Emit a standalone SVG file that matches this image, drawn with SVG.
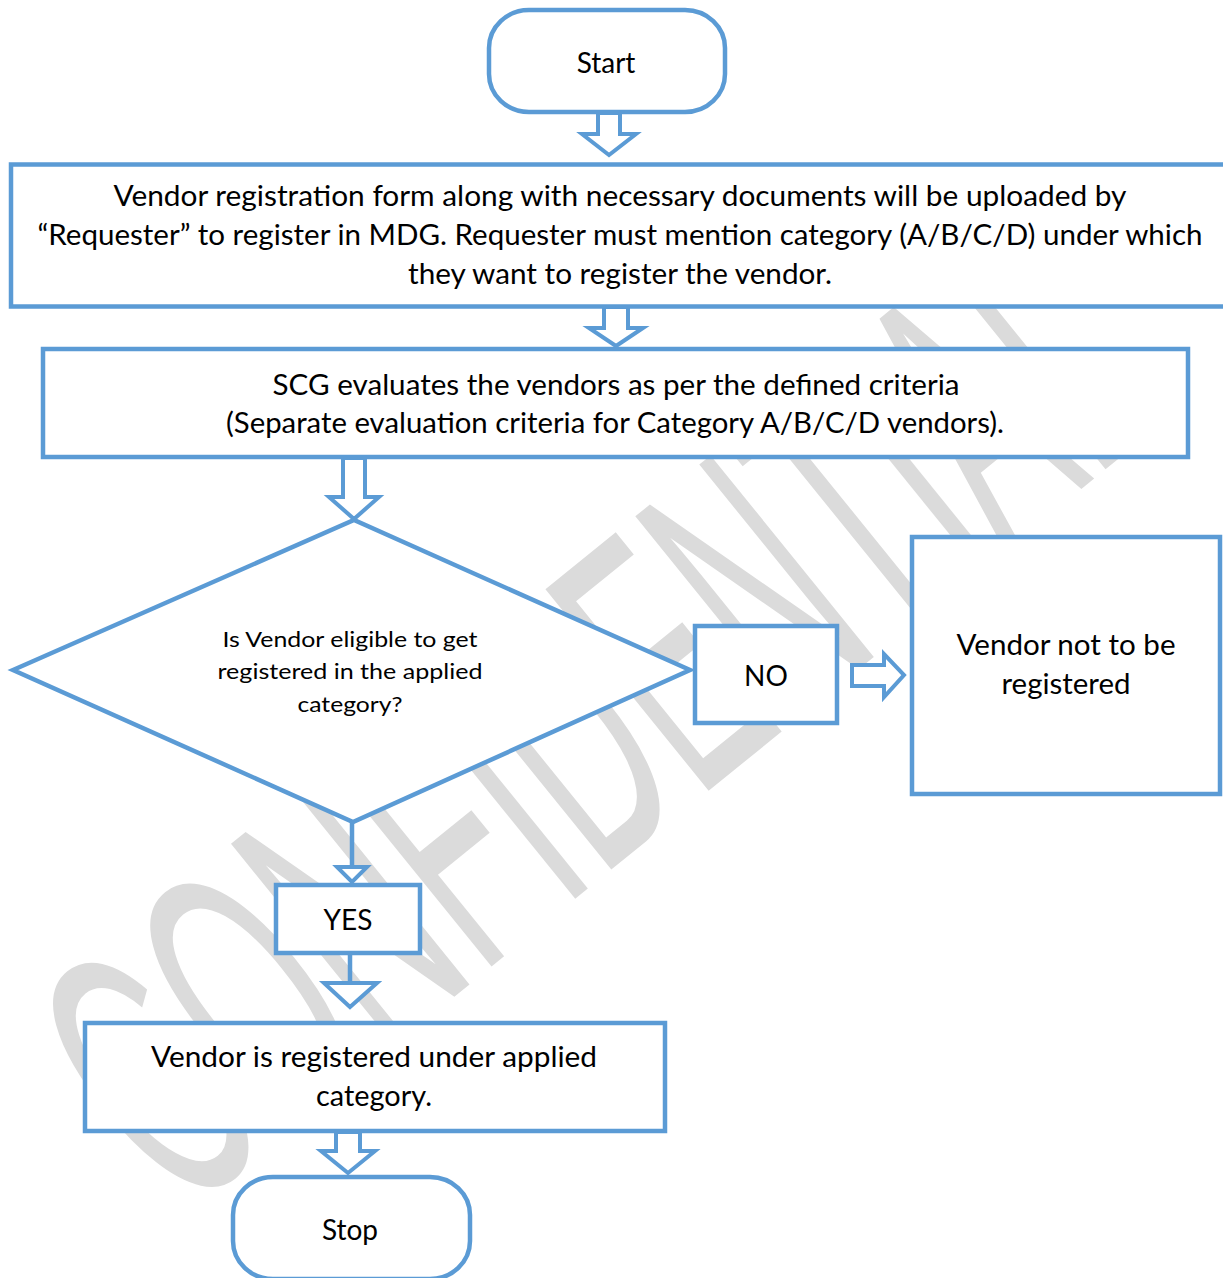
<svg xmlns="http://www.w3.org/2000/svg" width="1223" height="1278" viewBox="0 0 1223 1278">
<style>
.n{fill:#fff;stroke:#5B9BD5;stroke-width:4.5}
.a{fill:#fff;stroke:#5B9BD5;stroke-width:4;stroke-linejoin:miter}
.l{stroke:#5B9BD5;stroke-width:4.5;fill:none}
.t{font-family:Lato,"Liberation Sans",sans-serif;font-size:28px;fill:#000;text-anchor:middle}
.s{font-size:21px}
.wm{font-family:"Liberation Sans",Arial,sans-serif;font-size:377px;fill:#dbdbdb}
</style>
<rect width="1223" height="1278" fill="#fff"/>
<g id="watermark" transform="translate(181,1218) rotate(-39) scale(0.46,1)">
<text class="wm" x="0" y="0">CONFIDENTIAL</text>
</g>
<g id="connectors">
<path class="a" d="M598,113 L620,113 L620,134 L636,134 L609,155 L582,134 L598,134 Z"/>
<path class="a" d="M604,307 L628,307 L628,328 L643,328 L616,346 L589,328 L604,328 Z"/>
<path class="a" d="M343,458 L365,458 L365,497 L379,497 L354,519 L329,497 L343,497 Z"/>
<path class="a" d="M852,665 L884,665 L884,654 L904,675 L884,697 L884,686 L852,686 Z"/>
<line class="l" x1="352" y1="822" x2="352" y2="867"/>
<path class="a" d="M337,867 L367,867 L352,882 Z"/>
<line class="l" x1="350" y1="954" x2="350" y2="983"/>
<path class="a" d="M324,983 L377,983 L350,1007 Z"/>
<path class="a" d="M336,1132 L360,1132 L360,1151 L375,1151 L348,1173 L321,1151 L336,1151 Z"/>
</g>
<g id="start">
<rect class="n" x="489" y="10" width="236" height="102" rx="40" ry="38"/>
<text class="t" x="606" y="73">Start</text>
</g>
<g id="upload">
<rect class="n" x="11" y="164.5" width="1226" height="142"/>
<text class="t" x="620" y="206" textLength="1013" lengthAdjust="spacingAndGlyphs">Vendor registration form along with necessary documents will be uploaded by</text>
<text class="t" x="620" y="245" textLength="1165" lengthAdjust="spacingAndGlyphs">“Requester” to register in MDG. Requester must mention category (A/B/C/D) under which</text>
<text class="t" x="620" y="284" textLength="424" lengthAdjust="spacingAndGlyphs">they want to register the vendor.</text>
</g>
<g id="evaluate">
<rect class="n" x="43" y="349" width="1145" height="108"/>
<text class="t" x="616" y="395" textLength="687" lengthAdjust="spacingAndGlyphs">SCG evaluates the vendors as per the defined criteria</text>
<text class="t" x="615" y="433" textLength="778" lengthAdjust="spacingAndGlyphs">(Separate evaluation criteria for Category A/B/C/D vendors).</text>
</g>
<g id="decision">
<polygon class="n" points="13,670 354,520 690,670 353,822"/>
<text class="t s" x="350" y="647" textLength="255" lengthAdjust="spacingAndGlyphs">Is Vendor eligible to get</text>
<text class="t s" x="350" y="679" textLength="265" lengthAdjust="spacingAndGlyphs">registered in the applied</text>
<text class="t s" x="350" y="712" textLength="105" lengthAdjust="spacingAndGlyphs">category?</text>
</g>
<g id="no">
<rect class="n" x="695" y="626" width="142" height="97"/>
<text class="t" x="766" y="686">NO</text>
</g>
<g id="not-registered">
<rect class="n" x="912" y="537" width="308" height="257"/>
<text class="t" x="1066" y="655" textLength="219" lengthAdjust="spacingAndGlyphs">Vendor not to be</text>
<text class="t" x="1066" y="694" textLength="129" lengthAdjust="spacingAndGlyphs">registered</text>
</g>
<g id="yes">
<rect class="n" x="276" y="885" width="144" height="68"/>
<text class="t" x="348" y="930">YES</text>
</g>
<g id="registered">
<rect class="n" x="85" y="1023" width="580" height="108"/>
<text class="t" x="374" y="1067" textLength="446" lengthAdjust="spacingAndGlyphs">Vendor is registered under applied</text>
<text class="t" x="374" y="1106" textLength="116" lengthAdjust="spacingAndGlyphs">category.</text>
</g>
<g id="stop">
<rect class="n" x="233" y="1177" width="237" height="102" rx="40" ry="38"/>
<text class="t" x="350" y="1240">Stop</text>
</g>
</svg>
